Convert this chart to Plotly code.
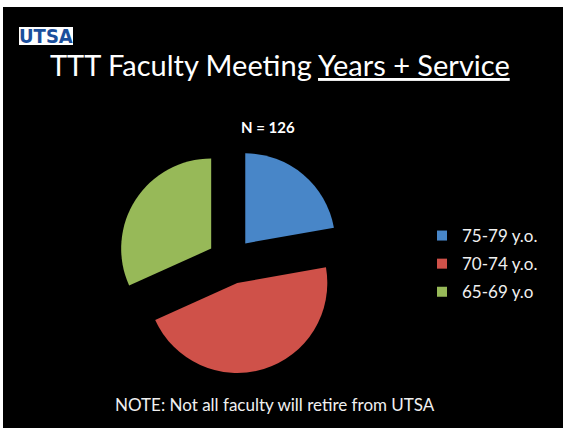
import plotly.graph_objects as go

# Data
categories = ["75-79 y.o.", "70-74 y.o.", "65-69 y.o"]
counts = [28, 58, 40]
colors = ["#4886c8", "#cf5149", "#97b958"]
total_label = "N = 126"
title_text = "TTT Faculty Meeting <u>Years + Service</u>"
note_text = "NOTE: Not all faculty will retire from UTSA"

W, H = 563, 428
FONT = "Lato, Carlito, 'Open Sans', sans-serif"

fig = go.Figure()
fig.add_trace(go.Pie(
    labels=categories,
    values=counts,
    sort=False,
    direction="clockwise",
    rotation=0,
    pull=[0.255, 0.255, 0.255],
    marker=dict(colors=colors, line=dict(width=0)),
    textinfo="none",
    hoverinfo="label+value+percent",
    domain=dict(x=[117.5 / W, 343.5 / W], y=[1 - 374 / H, 1 - 148 / H]),
    showlegend=False,
))

# legend entries (one per category, so spacing between them can be set)
for cat, col in zip(categories, colors):
    fig.add_trace(go.Scatter(
        x=[None], y=[None], mode="markers", name=cat, legendgroup=cat,
        marker=dict(symbol="square", size=10, color=col, line=dict(width=0)),
        showlegend=True, hoverinfo="skip",
    ))

fig.update_layout(
    width=W, height=H,
    margin=dict(l=0, r=0, t=0, b=0),
    paper_bgcolor="black",
    plot_bgcolor="black",
    font=dict(family=FONT, color="white"),
    xaxis=dict(visible=False),
    yaxis=dict(visible=False),
    legend=dict(
        x=422 / W, y=1 - 218 / H, xanchor="left", yanchor="top",
        font=dict(size=17, color="#f0f0f0", family=FONT),
        bgcolor="rgba(0,0,0,0)",
        tracegroupgap=3,
        itemclick=False, itemdoubleclick=False,
    ),
    shapes=[
        dict(type="rect", xref="paper", yref="paper", x0=0, x1=1, y0=1 - 7 / H, y1=1,
             fillcolor="white", line=dict(width=0), layer="below"),
        dict(type="rect", xref="paper", yref="paper", x0=0, x1=3 / W, y0=0, y1=1,
             fillcolor="white", line=dict(width=0), layer="below"),
        dict(type="rect", xref="paper", yref="paper", x0=19 / W, x1=73 / W, y0=1 - 45 / H, y1=1 - 27 / H,
             fillcolor="white", line=dict(width=0), layer="below"),
    ],
    annotations=[
        dict(text="<b>UTSA</b>", xref="paper", yref="paper", x=46 / W, y=1 - 36.5 / H,
             xanchor="center", yanchor="middle", showarrow=False,
             font=dict(size=20, color="#1b4f9c", family="'Liberation Sans Narrow', 'DejaVu Sans Condensed', sans-serif")),
        dict(text=title_text, xref="paper", yref="paper", x=280 / W, y=1 - 64 / H,
             xanchor="center", yanchor="middle", showarrow=False,
             font=dict(size=29, color="white", family=FONT)),
        dict(text="<b>" + total_label + "</b>", xref="paper", yref="paper", x=268 / W, y=1 - 127 / H,
             xanchor="center", yanchor="middle", showarrow=False,
             font=dict(size=15, color="white", family=FONT)),
        dict(text=note_text, xref="paper", yref="paper", x=275 / W, y=1 - 404 / H,
             xanchor="center", yanchor="middle", showarrow=False,
             font=dict(size=17, color="#f0f0f0", family=FONT)),
    ],
)

fig.write_html("out.html", config={"displayModeBar": False},
               post_script="document.body.style.margin='0';")
